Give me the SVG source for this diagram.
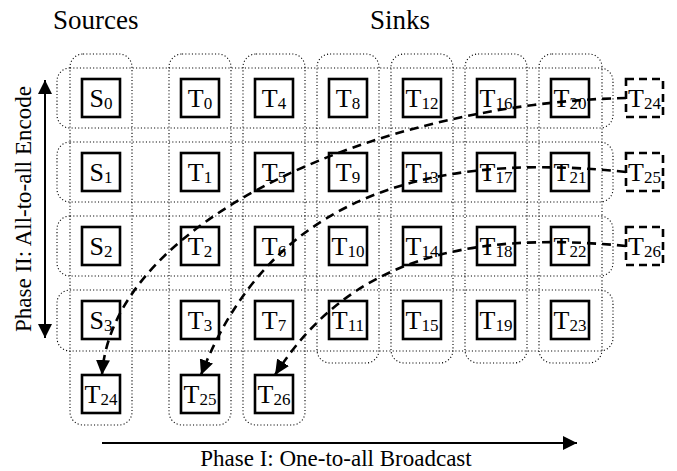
<svg xmlns="http://www.w3.org/2000/svg" width="677" height="471" viewBox="0 0 677 471">
<defs>
<style>
.grp{fill:none;stroke:#000;stroke-width:1.1;stroke-dasharray:1.1 2.2}
.box{fill:#fff;stroke:#000;stroke-width:2.6}
.dbox{fill:#fff;stroke:#000;stroke-width:2.6;stroke-dasharray:8 5}
.lbl{font-size:26px;fill:#000;text-anchor:middle}
.sub{font-size:17px}
.title{font-size:27px;fill:#000}
.axis{font-size:23px;fill:#000;text-anchor:middle}
.conn{fill:none;stroke:#000;stroke-width:2.6;stroke-dasharray:9 6;marker-end:url(#ah)}
.phase{fill:none;stroke:#000;stroke-width:2}
</style>
<marker id="ah" markerUnits="userSpaceOnUse" markerWidth="16" markerHeight="14" refX="15" refY="7" orient="auto" viewBox="0 0 16 14">
<path d="M0,0 L15,7 L0,14 Z" fill="#000"/>
</marker>
<marker id="ph" markerUnits="userSpaceOnUse" markerWidth="15" markerHeight="14" refX="14" refY="7" orient="auto-start-reverse" viewBox="0 0 15 14">
<path d="M0,0 L14,7 L0,14 Z" fill="#000"/>
</marker>
</defs>

<g font-family="'Liberation Serif', 'DejaVu Serif', serif">
<text class="title" x="53" y="29">Sources</text>
<text class="title" x="370" y="29">Sinks</text>

<g id="groups">
<rect class="grp" x="57" y="68" width="556" height="60" rx="13"/>
<rect class="grp" x="57" y="142" width="556" height="60" rx="13"/>
<rect class="grp" x="57" y="216" width="556" height="60" rx="13"/>
<rect class="grp" x="57" y="290" width="556" height="61" rx="13"/>
<rect class="grp" x="70" y="54" width="62" height="371" rx="13"/>
<rect class="grp" x="169" y="54" width="62" height="371" rx="13"/>
<rect class="grp" x="243" y="54" width="62" height="371" rx="13"/>
<rect class="grp" x="317" y="54" width="62" height="309" rx="13"/>
<rect class="grp" x="391" y="54" width="62" height="309" rx="13"/>
<rect class="grp" x="465" y="54" width="62" height="309" rx="13"/>
<rect class="grp" x="539" y="54" width="63" height="309" rx="13"/>
</g>

<g id="S0"><rect class="box" x="82" y="79" width="38" height="38"/><text class="lbl" x="101" y="107">S<tspan class="sub" dy="2">0</tspan></text></g>
<g id="S1"><rect class="box" x="82" y="153" width="38" height="38"/><text class="lbl" x="101" y="181">S<tspan class="sub" dy="2">1</tspan></text></g>
<g id="S2"><rect class="box" x="82" y="227" width="38" height="38"/><text class="lbl" x="101" y="255">S<tspan class="sub" dy="2">2</tspan></text></g>
<g id="S3"><rect class="box" x="82" y="301" width="38" height="38"/><text class="lbl" x="101" y="329">S<tspan class="sub" dy="2">3</tspan></text></g>
<g id="T24a"><rect class="box" x="82" y="375" width="38" height="38"/><text class="lbl" x="101" y="403">T<tspan class="sub" dy="2">24</tspan></text></g>

<g id="T0"><rect class="box" x="181" y="79" width="38" height="38"/><text class="lbl" x="200" y="107">T<tspan class="sub" dy="2">0</tspan></text></g>
<g id="T1"><rect class="box" x="181" y="153" width="38" height="38"/><text class="lbl" x="200" y="181">T<tspan class="sub" dy="2">1</tspan></text></g>
<g id="T2"><rect class="box" x="181" y="227" width="38" height="38"/><text class="lbl" x="200" y="255">T<tspan class="sub" dy="2">2</tspan></text></g>
<g id="T3"><rect class="box" x="181" y="301" width="38" height="38"/><text class="lbl" x="200" y="329">T<tspan class="sub" dy="2">3</tspan></text></g>
<g id="T25a"><rect class="box" x="181" y="375" width="38" height="38"/><text class="lbl" x="200" y="403">T<tspan class="sub" dy="2">25</tspan></text></g>

<g id="T4"><rect class="box" x="255" y="79" width="38" height="38"/><text class="lbl" x="274" y="107">T<tspan class="sub" dy="2">4</tspan></text></g>
<g id="T5"><rect class="box" x="255" y="153" width="38" height="38"/><text class="lbl" x="274" y="181">T<tspan class="sub" dy="2">5</tspan></text></g>
<g id="T6"><rect class="box" x="255" y="227" width="38" height="38"/><text class="lbl" x="274" y="255">T<tspan class="sub" dy="2">6</tspan></text></g>
<g id="T7"><rect class="box" x="255" y="301" width="38" height="38"/><text class="lbl" x="274" y="329">T<tspan class="sub" dy="2">7</tspan></text></g>
<g id="T26a"><rect class="box" x="255" y="375" width="38" height="38"/><text class="lbl" x="274" y="403">T<tspan class="sub" dy="2">26</tspan></text></g>

<g id="T8"><rect class="box" x="329" y="79" width="38" height="38"/><text class="lbl" x="348" y="107">T<tspan class="sub" dy="2">8</tspan></text></g>
<g id="T9"><rect class="box" x="329" y="153" width="38" height="38"/><text class="lbl" x="348" y="181">T<tspan class="sub" dy="2">9</tspan></text></g>
<g id="T10"><rect class="box" x="329" y="227" width="38" height="38"/><text class="lbl" x="348" y="255">T<tspan class="sub" dy="2">10</tspan></text></g>
<g id="T11"><rect class="box" x="329" y="301" width="38" height="38"/><text class="lbl" x="348" y="329">T<tspan class="sub" dy="2">11</tspan></text></g>

<g id="T12"><rect class="box" x="403" y="79" width="38" height="38"/><text class="lbl" x="422" y="107">T<tspan class="sub" dy="2">12</tspan></text></g>
<g id="T13"><rect class="box" x="403" y="153" width="38" height="38"/><text class="lbl" x="422" y="181">T<tspan class="sub" dy="2">13</tspan></text></g>
<g id="T14"><rect class="box" x="403" y="227" width="38" height="38"/><text class="lbl" x="422" y="255">T<tspan class="sub" dy="2">14</tspan></text></g>
<g id="T15"><rect class="box" x="403" y="301" width="38" height="38"/><text class="lbl" x="422" y="329">T<tspan class="sub" dy="2">15</tspan></text></g>

<g id="T16"><rect class="box" x="477" y="79" width="38" height="38"/><text class="lbl" x="496" y="107">T<tspan class="sub" dy="2">16</tspan></text></g>
<g id="T17"><rect class="box" x="477" y="153" width="38" height="38"/><text class="lbl" x="496" y="181">T<tspan class="sub" dy="2">17</tspan></text></g>
<g id="T18"><rect class="box" x="477" y="227" width="38" height="38"/><text class="lbl" x="496" y="255">T<tspan class="sub" dy="2">18</tspan></text></g>
<g id="T19"><rect class="box" x="477" y="301" width="38" height="38"/><text class="lbl" x="496" y="329">T<tspan class="sub" dy="2">19</tspan></text></g>

<g id="T20"><rect class="box" x="551" y="79" width="38" height="38"/><text class="lbl" x="570" y="107">T<tspan class="sub" dy="2">20</tspan></text></g>
<g id="T21"><rect class="box" x="551" y="153" width="38" height="38"/><text class="lbl" x="570" y="181">T<tspan class="sub" dy="2">21</tspan></text></g>
<g id="T22"><rect class="box" x="551" y="227" width="38" height="38"/><text class="lbl" x="570" y="255">T<tspan class="sub" dy="2">22</tspan></text></g>
<g id="T23"><rect class="box" x="551" y="301" width="38" height="38"/><text class="lbl" x="570" y="329">T<tspan class="sub" dy="2">23</tspan></text></g>

<g id="T24b"><rect class="dbox" x="626" y="79" width="37" height="38"/><text class="lbl" x="644.5" y="107">T<tspan class="sub" dy="2">24</tspan></text></g>
<g id="T25b"><rect class="dbox" x="626" y="153" width="37" height="38"/><text class="lbl" x="644.5" y="181">T<tspan class="sub" dy="2">25</tspan></text></g>
<g id="T26b"><rect class="dbox" x="626" y="227" width="37" height="38"/><text class="lbl" x="644.5" y="255">T<tspan class="sub" dy="2">26</tspan></text></g>

<g id="connectors">
<path class="conn" d="M626,98 C380,103 112,220 102,375"/>
<path class="conn" d="M626,172 C400,148 263,215 201,375"/>
<path class="conn" d="M626,246 C460,230 347,262 275,375"/>
</g>

<g id="phases">
<line class="phase" x1="45" y1="80" x2="45" y2="338" marker-start="url(#ph)" marker-end="url(#ph)"/>
<text class="axis" transform="translate(31,209) rotate(-90)">Phase II: All-to-all Encode</text>
<line class="phase" x1="102" y1="443" x2="577" y2="443" marker-end="url(#ph)"/>
<text class="axis" x="336" y="466">Phase I: One-to-all Broadcast</text>
</g>
</g>
</svg>
